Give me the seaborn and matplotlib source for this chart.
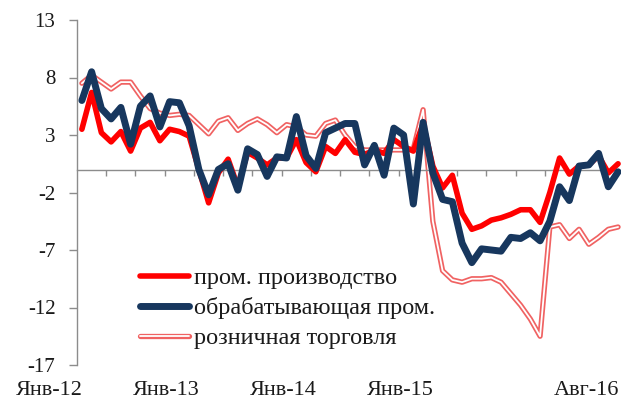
import numpy as np
import pandas as pd
import matplotlib
matplotlib.use("Agg")
import matplotlib.pyplot as plt
import matplotlib.patheffects as pe
from matplotlib.transforms import blended_transform_factory
import seaborn as sns

# ---- data (monthly, Jan-2012 .. Aug-2016) ----
months = list(range(56))
ip_total = [3.5, 6.7, 3.2, 2.4, 3.3, 1.6, 3.6, 4.1, 2.5, 3.5, 3.3, 2.9,
            0.0, -2.9, -0.3, 0.9, -1.5, 1.5, 1.0, 0.4, 1.0, 1.0, 2.6, 0.6,
            -0.2, 2.0, 1.4, 2.6, 1.5, 1.3, 1.7, 1.4, 2.6, 2.0, 1.6, 4.0,
            0.3, -1.6, -0.5, -3.8, -5.2, -4.9, -4.4, -4.2, -3.9, -3.5, -3.5, -4.6,
            -2.0, 1.0, -0.4, 0.3, 0.4, 1.2, -0.3, 0.5]
manufacturing = [6.0, 8.5, 5.3, 4.4, 5.4, 2.2, 5.5, 6.4, 3.7, 5.9, 5.8, 3.8,
                 0.0, -2.2, 0.0, 0.5, -1.8, 1.8, 1.3, -0.6, 1.1, 1.0, 4.6, 1.2,
                 0.1, 3.2, 3.6, 4.0, 4.0, 0.4, 2.1, -0.5, 3.6, 3.0, -3.0, 4.1,
                 -0.3, -2.6, -2.8, -6.4, -8.1, -6.9, -7.0, -7.1, -5.9, -6.0, -5.5, -6.2,
                 -4.5, -1.5, -2.7, 0.3, 0.4, 1.4, -1.5, -0.2]
retail = [7.5, 8.2, 7.6, 7.0, 7.6, 7.6, 6.4, 5.3, 4.9, 4.7, 4.8, 4.7,
          3.9, 3.1, 4.2, 4.5, 3.4, 4.0, 4.4, 3.9, 3.2, 3.9, 3.7, 3.0,
          2.9, 4.0, 4.3, 3.0, 2.0, 1.7, 1.7, 1.7, 1.7, 1.7, 1.8, 5.2,
          -4.5, -8.8, -9.6, -9.8, -9.5, -9.5, -9.4, -9.8, -10.8, -11.8, -13.0, -14.5,
          -5.0, -4.8, -6.0, -5.2, -6.5, -5.9, -5.2, -5.0]
series_names = ["пром. производство", "обрабатывающая пром.", "розничная торговля"]
x_label_pos = [0, 12, 24, 36, 55]
x_labels = ["Янв-12", "Янв-13", "Янв-14", "Янв-15", "Авг-16"]
y_ticks = [-17, -12, -7, -2, 3, 8, 13]

df = pd.DataFrame({"month": months, "ip": ip_total, "man": manufacturing, "ret": retail})

sns.set_style("white")
plt.rcParams["font.family"] = ["Liberation Serif", "DejaVu Serif"]

fig = plt.figure(figsize=(6.21, 4.04), dpi=100)
ax = fig.add_axes([77 / 621, 1 - 365 / 404, 1 - 77 / 621, 345 / 404])

axis_grey = "#8c8c8c"
red = "#ff0000"
navy = "#17375e"
retail_red = "#f06262"

# retail (double line)
sns.lineplot(data=df, x="month", y="ret", ax=ax, color="white", linewidth=1.3,
             label=series_names[2], zorder=2)
ret_line = ax.lines[-1]
ret_line.set_path_effects([pe.Stroke(linewidth=3.8, foreground=retail_red), pe.Normal()])

sns.lineplot(data=df, x="month", y="ip", ax=ax, color=red, linewidth=4.0,
             label=series_names[0], zorder=3)
sns.lineplot(data=df, x="month", y="man", ax=ax, color=navy, linewidth=5.0,
             label=series_names[1], zorder=4)

for ln in ax.lines:
    ln.set_solid_joinstyle("round")
    ln.set_solid_capstyle("round")

ax.set_xlim(-0.5, 55.3)
ax.set_ylim(-17, 13)
ax.set_xlabel("")
ax.set_ylabel("")

# axes styling
for s in ["top", "right"]:
    ax.spines[s].set_visible(False)
ax.spines["left"].set_color(axis_grey)
ax.spines["left"].set_linewidth(1.0)
ax.spines["bottom"].set_position(("data", 0))
ax.spines["bottom"].set_color(axis_grey)
ax.spines["bottom"].set_linewidth(1.0)

ax.set_yticks(y_ticks)
ax.set_yticklabels([str(v) for v in y_ticks])
ax.tick_params(axis="y", direction="out", length=5.5, width=1, color=axis_grey,
               pad=10, labelsize=15, labelcolor="#1a1a1a", left=True)

ax.set_xticks([])
ax.set_xticks(np.arange(2.5, 55.3, 3), minor=True)
ax.tick_params(axis="x", which="minor", direction="out", length=4, width=1,
               color=axis_grey, bottom=True)

trans = blended_transform_factory(ax.transData, ax.transAxes)
for pos, lab in zip(x_label_pos, x_labels):
    ax.text(pos + 0.1, -0.075, lab, transform=trans, ha="right", va="center",
            fontsize=16, color="#1a1a1a", clip_on=False)

leg = ax.legend(handles=[ax.lines[1], ax.lines[2], ax.lines[0]],
                labels=series_names, loc="upper left",
                bbox_to_anchor=(0.116, 0.283), frameon=False, fontsize=17.5,
                handlelength=2.0, handletextpad=0.2, labelspacing=0.33,
                borderpad=0.0, borderaxespad=0.0)
for t in leg.get_texts():
    t.set_color("#1a1a1a")

fig.savefig("out.png", dpi=100)
